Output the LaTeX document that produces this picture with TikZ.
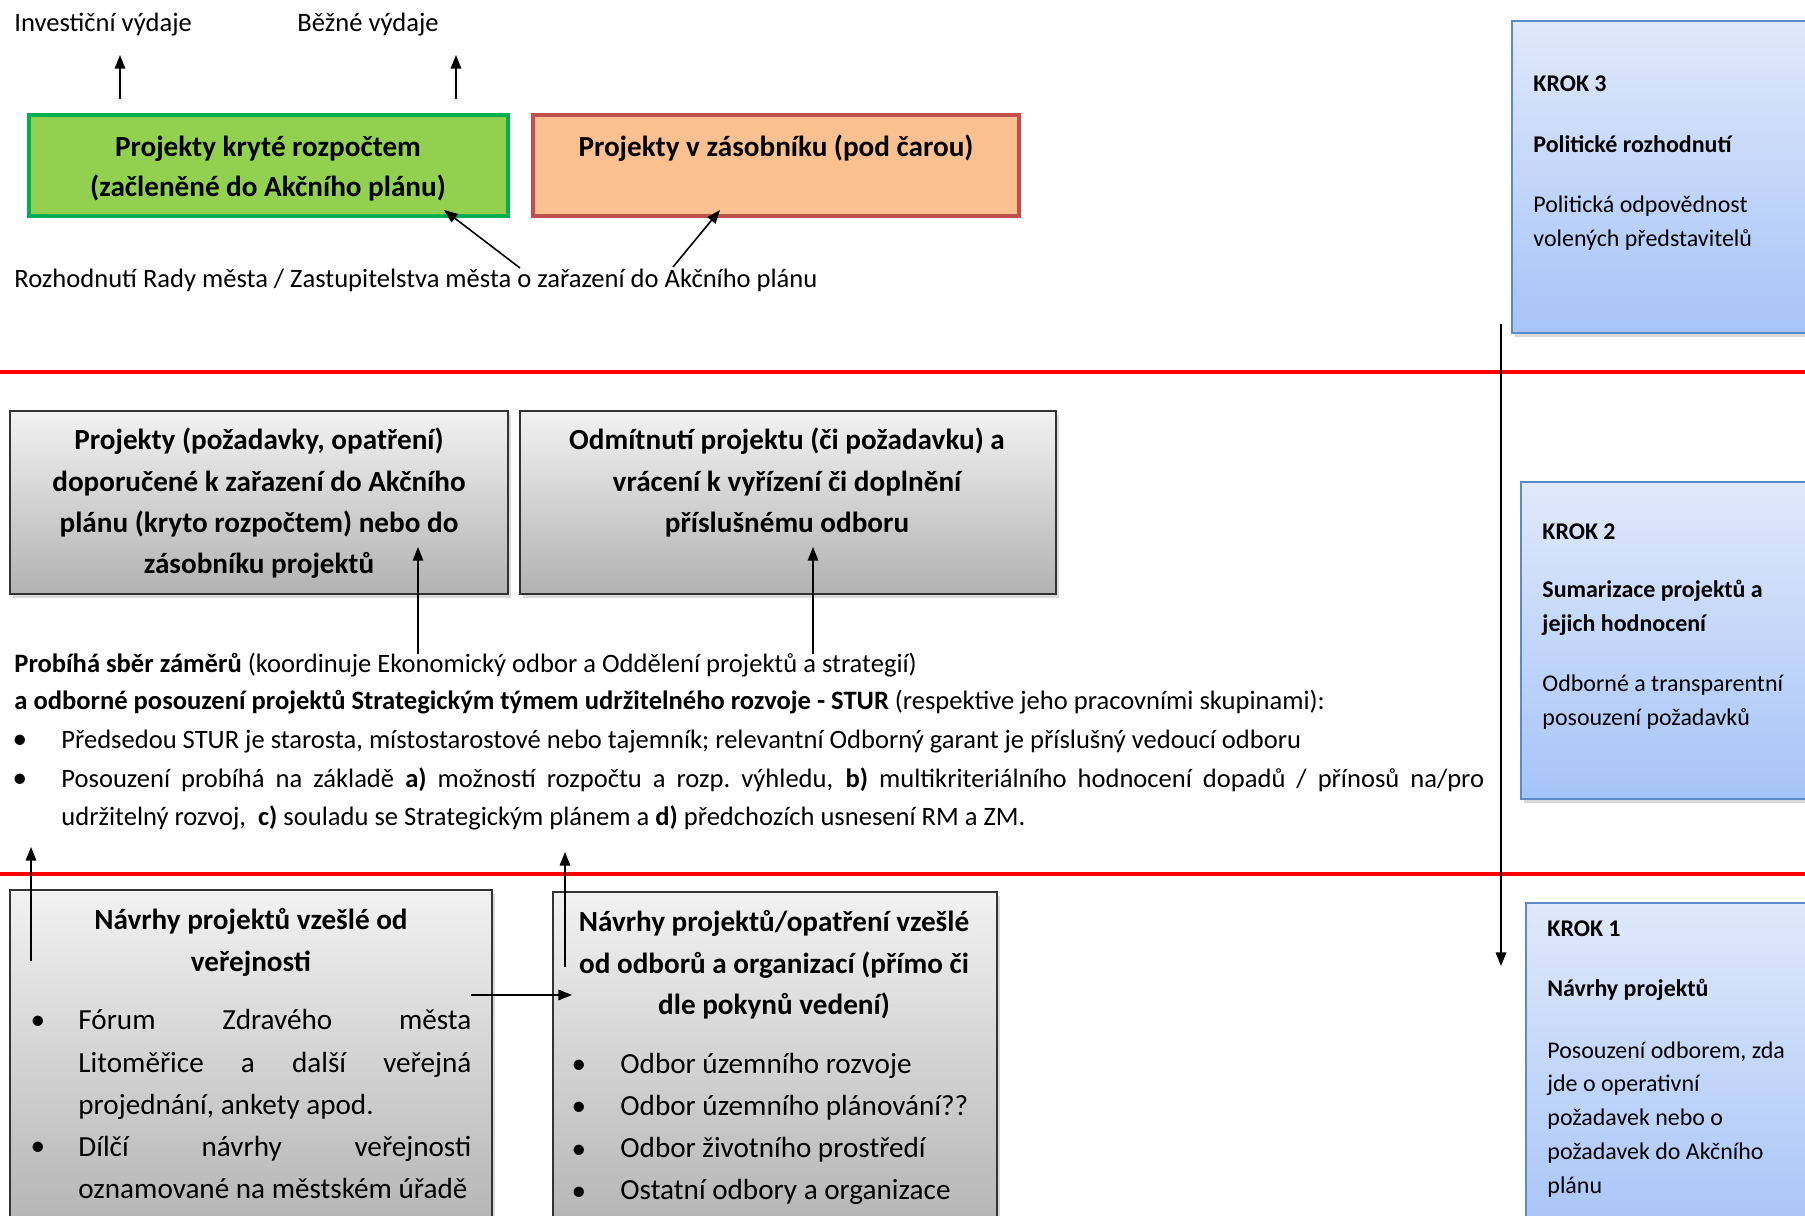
\documentclass[tikz,border=0pt]{standalone}
\usepackage{fontspec}
\setmainfont{Carlito}
\usetikzlibrary{arrows.meta,shadows,fit}
\definecolor{gfill}{HTML}{92D050}
\definecolor{gline}{HTML}{00B050}
\definecolor{ofill}{HTML}{FAC090}
\definecolor{oline}{HTML}{C0504D}
\definecolor{btop}{HTML}{E0E9FA}
\definecolor{bbot}{HTML}{A6C4F8}
\definecolor{bline}{HTML}{5B8AC8}
\definecolor{gtop}{HTML}{F2F2F2}
\definecolor{gbot}{HTML}{B2B2B2}
\definecolor{gedge}{HTML}{333333}
\definecolor{redline}{HTML}{FF0000}
\newcommand{\jline}[2]{\makebox[#1][s]{\spaceskip=0pt\xspaceskip=0pt #2}}
\begin{document}
\begin{tikzpicture}[x=0.48pt,y=-0.48pt,
  every node/.append style={execute at begin node={\spaceskip=\fontdimen2\font\xspaceskip=\fontdimen2\font}},
  box/.style={inner sep=0pt, outer sep=0pt},
  greenbox/.style={box, fill=gfill, draw=gline, line width=1.8pt},
  orangebox/.style={box, fill=ofill, draw=oline, line width=1.8pt},
  krokbox/.style={box, top color=btop, bottom color=bbot, draw=bline, line width=1.1pt,
    drop shadow={shadow xshift=1.5pt, shadow yshift=-1.8pt, opacity=0.3}},
  greybox/.style={box, top color=gtop, bottom color=gbot, draw=gedge, line width=0.8pt,
    drop shadow={shadow xshift=1.5pt, shadow yshift=-1.8pt, opacity=0.3}},
  sepline/.style={draw=redline, line width=1.8pt},
  arr/.style={-{Triangle[length=6.5pt,width=5pt]}, line width=0.75pt},
  body/.style={inner sep=0pt, anchor=base west, font=\fontsize{12.75}{18}\selectfont},
  krok/.style={inner sep=0pt, anchor=base west, text width=150pt, align=left, font=\fontsize{11.5}{16.3}\selectfont},
  title/.style={inner sep=0pt, anchor=base, text width=250pt, align=center, font=\bfseries\fontsize{14}{19.7}\selectfont},
  bul/.style={inner sep=0pt, anchor=base, font=\fontsize{14}{14}\selectfont},
  bultxt/.style={inner sep=0pt, anchor=base west, text width=200pt, align=left, font=\fontsize{14}{20.2}\selectfont},
]
\useasboundingbox (0,0) rectangle (1805,1216);
\clip (0,0) rectangle (1805,1216);

% ---------- top section ----------
\node[body] (inv) at (14,32) {Investiční výdaje};
\node[body] (bez) at (297,32) {Běžné výdaje};
\coordinate (a1s) at (120,99); \coordinate (a1e) at (120,55);
\coordinate (a2s) at (456,99); \coordinate (a2e) at (456,55);
\draw[arr] (a1s) -- (a1e);
\draw[arr] (a2s) -- (a2e);

\node[greenbox, fit={(29,115)(508,216)}] (green) {};
\node[orangebox, fit={(533,115)(1019,216)}] (orange) {};
\node[title, font=\bfseries\fontsize{14}{19.2}\selectfont] (greent) at (268,157) {Projekty kryté rozpočtem\\(začleněné do Akčního plánu)};
\node[title] (oranget) at (776,157) {Projekty v zásobníku (pod čarou)};

\node[body] (rozh) at (14,288) {Rozhodnutí Rady města / Zastupitelstva města o zařazení do Akčního plánu};
\coordinate (r1s) at (520,268); \coordinate (r1e) at (444,210);
\coordinate (r2s) at (673,267); \coordinate (r2e) at (720,210);
\draw[arr] (r1s) -- (r1e);
\draw[arr] (r2s) -- (r2e);

% ---------- separators ----------
\draw[sepline] (0,372) -- (1805,372);
\draw[sepline] (0,874) -- (1805,874);

% ---------- KROK boxes ----------
\node[krokbox, fit={(1512,21)(1840,333)}] (k3) {};
\node[krok] (k3a) at (1533,92) {\textbf{KROK 3}};
\node[krok] (k3b) at (1533,153) {\textbf{Politické rozhodnutí}};
\node[krok] (k3c) at (1533,213) {Politická odpovědnost\\volených představitelů};

\node[krokbox, fit={(1521,482)(1840,799)}] (k2) {};
\node[krok] (k2a) at (1542,540) {\textbf{KROK 2}};
\node[krok] (k2b) at (1542,598) {\textbf{Sumarizace projektů a}\\\textbf{jejich hodnocení}};
\node[krok] (k2c) at (1542,692) {Odborné a transparentní\\posouzení požadavků};

\node[krokbox, fit={(1526,903)(1840,1240)}] (k1) {};
\node[krok] (k1a) at (1547,937) {\textbf{KROK 1}};
\node[krok] (k1b) at (1547,997) {\textbf{Návrhy projektů}};
\node[krok] (k1c) at (1547,1058) {Posouzení odborem, zda\\jde o operativní\\požadavek nebo o\\požadavek do Akčního\\plánu};

\coordinate (vs) at (1501,324); \coordinate (ve) at (1501,966);
\draw[arr, line width=0.85pt] (vs) -- (ve);

% ---------- middle grey boxes ----------
\node[greybox, fit={(10,411)(508,594)}] (g1) {};
\node[greybox, fit={(520,411)(1056,594)}] (g2) {};
\node[title] (g1t) at (259,450) {Projekty (požadavky, opatření)\\doporučené k zařazení do Akčního\\plánu (kryto rozpočtem) nebo do\\zásobníku projektů};
\node[title] (g2t) at (787,450) {Odmítnutí projektu (či požadavku) a\\vrácení k vyřízení či doplnění\\příslušnému odboru};
\coordinate (u1s) at (418,654); \coordinate (u1e) at (418,547);
\coordinate (u2s) at (813,654); \coordinate (u2e) at (813,547);
\draw[arr] (u1s) -- (u1e);
\draw[arr] (u2s) -- (u2e);

% ---------- text block ----------
\node[body] (l1) at (14,673) {\textbf{Probíhá sběr záměrů} (koordinuje Ekonomický odbor a Oddělení projektů a strategií)};
\node[body] (l2) at (14,710) {\textbf{a odborné posouzení projektů Strategickým týmem udržitelného rozvoje - STUR} (respektive jeho pracovními skupinami):};
\node[bul] (b1) at (20,749) {\textbullet};
\node[body] (l3) at (61,749) {Předsedou STUR je starosta, místostarostové nebo tajemník; relevantní Odborný garant je příslušný vedoucí odboru};
\node[bul] (b2) at (20,788) {\textbullet};
\node[body] (l4) at (61,788) {\jline{683pt}{Posouzení probíhá na základě \textbf{a)} možností rozpočtu a rozp.\ výhledu, \textbf{b)} multikriteriálního hodnocení dopadů / přínosů na/pro}};
\node[body] (l5) at (61,826) {udržitelný rozvoj,\ \ \textbf{c)} souladu se Strategickým plánem a \textbf{d)} předchozích usnesení RM a ZM.};

\coordinate (d1s) at (31,961); \coordinate (d1e) at (31,847);
\coordinate (d2s) at (565,967); \coordinate (d2e) at (565,852);

% ---------- bottom grey boxes ----------
\node[greybox, fit={(10,890)(492,1240)}] (g3) {};
\node[greybox, fit={(553,892)(997,1240)}] (g4) {};
\node[title] (g3t) at (251,930) {Návrhy projektů vzešlé od\\veřejnosti};
\node[title] (g4t) at (774,932) {Návrhy projektů/opatření vzešlé\\od odborů a organizací (přímo či\\dle pokynů vedení)};

\node[bul] (b3) at (38,1030) {\textbullet};
\node[bul] (b4) at (38,1155) {\textbullet};
\node[bultxt] (g3b) at (78,1030) {\jline{188.6pt}{Fórum Zdravého města}\\\jline{188.6pt}{Litoměřice a další veřejná}\\projednání, ankety apod.\\\jline{188.6pt}{Dílčí návrhy veřejnosti}\\oznamované na městském úřadě};

\node[bul] (b5) at (579,1073) {\textbullet};
\node[bul] (b6) at (579,1115) {\textbullet};
\node[bul] (b7) at (579,1158) {\textbullet};
\node[bul] (b8) at (579,1200) {\textbullet};
\node[bultxt] (g4b) at (620,1073) {Odbor územního rozvoje\\Odbor územního plánování??\\Odbor životního prostředí\\Ostatní odbory a organizace};

\draw[arr] (d1s) -- (d1e);
\draw[arr] (d2s) -- (d2e);
\coordinate (hs) at (471,995); \coordinate (he) at (572,995);
\draw[arr] (hs) -- (he);
\end{tikzpicture}
\end{document}
